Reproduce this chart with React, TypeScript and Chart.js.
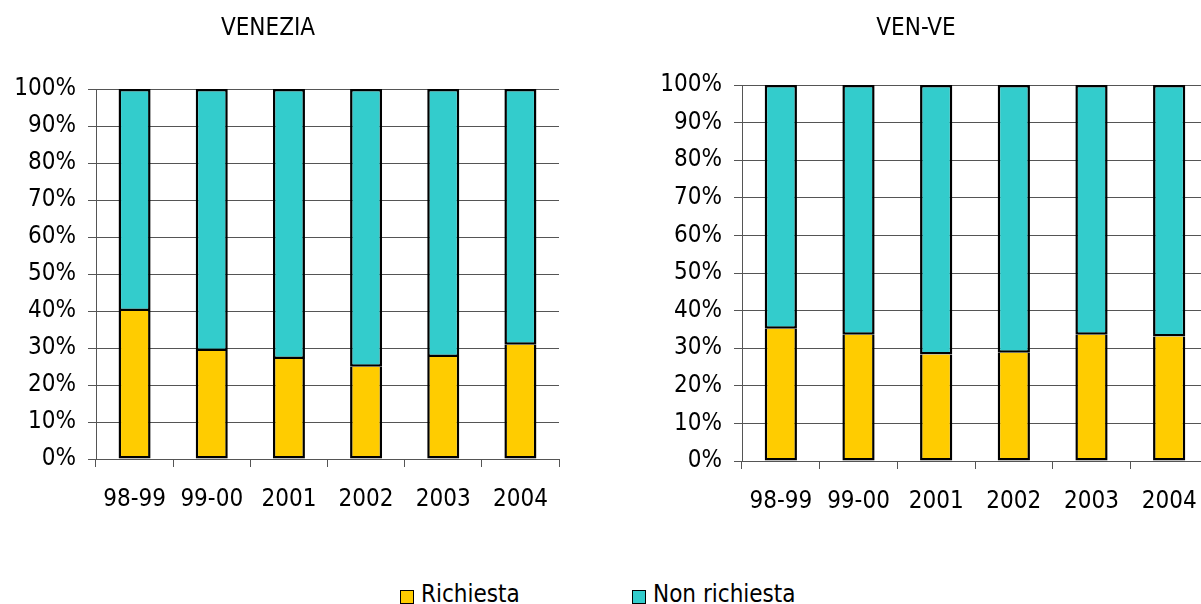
import React, { useEffect, useRef } from "react";
import { Chart, registerables } from "chart.js";

Chart.register(...registerables);

const categories = ["98-99", "99-00", "2001", "2002", "2003", "2004"];
const veneziaRichiesta = [40.0, 29.2, 27.0, 24.9, 27.6, 30.9];
const veneziaNonRichiesta = [60.0, 70.8, 73.0, 75.1, 72.4, 69.1];
const venveRichiesta = [35.2, 33.6, 28.3, 28.8, 33.6, 33.1];
const venveNonRichiesta = [64.8, 66.4, 71.7, 71.2, 66.4, 66.9];
const yTicks = [0, 10, 20, 30, 40, 50, 60, 70, 80, 90, 100];
const seriesNames = ["Richiesta", "Non richiesta"];
const seriesColors = ["#FFCC00", "#33CCCC"];

const FONT = "'DejaVu Sans Condensed', 'DejaVu Sans', sans-serif";

type Cfg = {
  title: string;
  a: number[];
  b: number[];
  yWidth: number;
  padRight: number;
  padBottom: number;
  titleBottom: number;
};

function BarChart({ cfg, style }: { cfg: Cfg; style: React.CSSProperties }) {
  const ref = useRef<HTMLCanvasElement | null>(null);
  useEffect(() => {
    if (!ref.current) return;
    const ds = (i: number, data: number[], bw: any) => ({
      label: seriesNames[i],
      data,
      backgroundColor: seriesColors[i],
      borderColor: "#000000",
      borderWidth: bw,
      borderSkipped: false as const,
      barPercentage: 0.415,
      categoryPercentage: 1,
    });
    const chart = new Chart(ref.current, {
      type: "bar",
      data: {
        labels: categories,
        datasets: [
          ds(0, cfg.a, { top: 0, left: 2.5, right: 2.5, bottom: 2.5 }),
          ds(1, cfg.b, { top: 2.5, left: 2.5, right: 2.5, bottom: 2.5 }),
        ],
      },
      options: {
        animation: false,
        responsive: false,
        maintainAspectRatio: false,
        layout: {
          padding: { left: 0, right: cfg.padRight, top: 0, bottom: cfg.padBottom },
        },
        plugins: {
          legend: { display: false },
          tooltip: { enabled: false },
          title: {
            display: true,
            text: cfg.title,
            color: "#000",
            font: { family: FONT, size: 24, weight: "normal", lineHeight: 1.2 },
            padding: { top: 14, bottom: cfg.titleBottom },
          },
        },
        scales: {
          x: {
            stacked: true,
            offset: true,
            afterFit: (s: any) => {
              s.height = 60;
            },
            grid: {
              offset: true,
              drawOnChartArea: false,
              drawTicks: true,
              tickLength: 8,
              color: "#555555",
              lineWidth: 1,
            },
            border: { display: true, color: "#555555", width: 1 },
            ticks: {
              color: "#000",
              padding: 18,
              maxRotation: 0,
              autoSkip: false,
              font: { family: FONT, size: 24 },
            },
          },
          y: {
            stacked: true,
            min: 0,
            max: 100,
            afterFit: (s: any) => {
              s.width = cfg.yWidth;
            },
            afterBuildTicks: (s: any) => {
              s.ticks = yTicks.map((v) => ({ value: v }));
            },
            grid: {
              color: "#555555",
              lineWidth: 1,
              tickLength: 8,
              drawTicks: true,
            },
            border: { display: true, color: "#555555", width: 1 },
            ticks: {
              color: "#000",
              padding: 12,
              font: { family: FONT, size: 24 },
              callback: (v: any) => v + "%",
            },
          },
        },
      },
    });
    return () => chart.destroy();
  }, [cfg]);
  return <canvas ref={ref} width={style.width as number} height={style.height as number} style={style} />;
}

const leftCfg: Cfg = {
  title: "VENEZIA",
  a: veneziaRichiesta,
  b: veneziaNonRichiesta,
  yWidth: 119,
  padRight: 21,
  padBottom: 41,
  titleBottom: 46.2,
};

const rightCfg: Cfg = {
  title: "VEN-VE",
  a: venveRichiesta,
  b: venveNonRichiesta,
  yWidth: 118,
  padRight: 10,
  padBottom: 39,
  titleBottom: 42.2,
};

function LegendItem({ color, label, left }: { color: string; label: string; left: number }) {
  return (
    <div style={{ position: "absolute", left, top: 580, display: "flex", alignItems: "center", whiteSpace: "nowrap" }}>
      <div
        style={{
          width: 12,
          height: 12,
          background: color,
          border: "1.5px solid #000",
          marginRight: 7,
          marginTop: 6,
        }}
      />
      <span style={{ fontFamily: FONT, fontSize: 24, color: "#000", lineHeight: "28px" }}>{label}</span>
    </div>
  );
}

export default function App() {
  return (
    <div
      style={{
        position: "fixed",
        left: 0,
        top: 0,
        width: 1201,
        height: 604,
        overflow: "hidden",
        background: "#fff",
      }}
    >
      <BarChart cfg={leftCfg} style={{ position: "absolute", left: -23, top: 0, width: 603, height: 560 }} />
      <BarChart cfg={rightCfg} style={{ position: "absolute", left: 624, top: 0, width: 594, height: 560 }} />
      <LegendItem color={seriesColors[0]} label={seriesNames[0]} left={400} />
      <LegendItem color={seriesColors[1]} label={seriesNames[1]} left={632} />
    </div>
  );
}
